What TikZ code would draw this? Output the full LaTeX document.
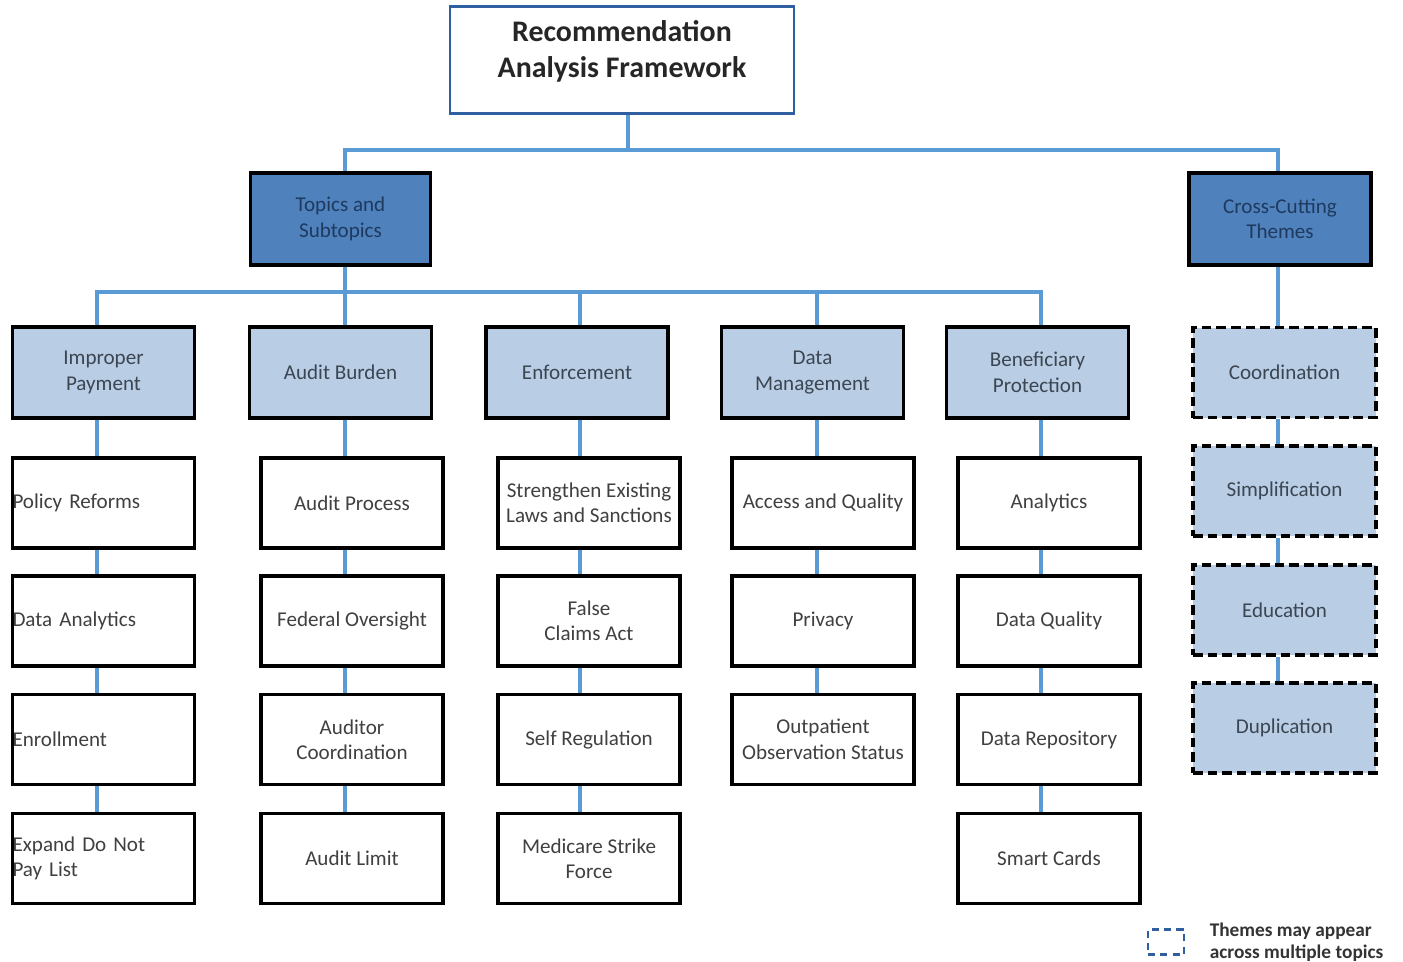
\documentclass[tikz,border=0pt]{standalone}
\usepackage{fontspec}
\setmainfont{Carlito}
\usetikzlibrary{positioning}
\definecolor{rfblue}{HTML}{2F5F9E}
\definecolor{rfmid}{HTML}{4F81BD}
\definecolor{rflight}{HTML}{B9CDE5}
\definecolor{rfline}{HTML}{5B9BD5}
\definecolor{rfnavy}{HTML}{1F3A5F}
\definecolor{rftext}{HTML}{3C4652}

\begin{document}
\begin{tikzpicture}[
  x=0.02cm, y=-0.02cm,
  every node/.style={font=\fontsize{12}{14.5}\selectfont, align=center},
  titlebox/.style={draw=rfblue, line width=1.6pt, fill=white,
                   minimum width=6.88cm, minimum height=2.14cm, text depth=13pt,
                   font=\fontsize{17}{20.5}\selectfont\bfseries, text=black!85},
  topbox/.style={draw=black, line width=2.2pt, fill=rfmid, text=rfnavy,
                 minimum width=3.6cm, minimum height=1.84cm},
  catbox/.style={draw=black, line width=2.2pt, fill=rflight, text=rftext,
                 minimum width=3.64cm, minimum height=1.82cm},
  leafbox/.style={draw=black, line width=2.2pt, fill=white, text=black!75,
                  minimum width=3.64cm, minimum height=1.8cm},
  leftleaf/.style={leafbox, text width=3.64cm, inner xsep=0pt, align=left},
  themebox/.style={draw=black, line width=2.2pt, dash pattern=on 5.5pt off 2.8pt,
                   fill=rflight, text=rftext,
                   minimum width=3.66cm, minimum height=1.8cm},
  link/.style={draw=rfline, line width=1.8pt},
  legbox/.style={draw=rfblue, line width=1.6pt, dash pattern=on 4pt off 3pt,
                 minimum width=0.72cm, minimum height=0.5cm},
  legtxt/.style={font=\fontsize{11}{12.5}\selectfont\bfseries, text=black!80,
                 align=left, inner sep=0pt},
]
\useasboundingbox (0,0) rectangle (1403,961);

%% ---- top levels ----
\node[titlebox] (title) at (622,60) {Recommendation\\Analysis Framework};
\node[topbox] (topics) at (340.5,219) {Topics and\\Subtopics};
\node[topbox, minimum width=3.64cm] (cross) at (1280,219) {Cross-Cutting\\Themes};

%% ---- categories ----
\node[catbox] (cat1) at (103.5,372.5) {Improper\\Payment};
\node[catbox] (cat2) at (340.5,372.5) {Audit Burden};
\node[catbox] (cat3) at (577,372.5) {Enforcement};
\node[catbox] (cat4) at (812.5,372.5) {Data\\Management};
\node[catbox] (cat5) at (1037.5,372.5) {Beneficiary\\Protection};

%% ---- themes ----
\node[themebox] (th1) at (1284.5,372.5) {Coordination};
\node[themebox] (th2) at (1284.5,491) {Simplification};
\node[themebox] (th3) at (1284.5,610) {Education};
\node[themebox] (th4) at (1284.5,728) {Duplication};

%% ---- column 1 ----
\node[leftleaf] (l11) at (103.5,503) {Policy Reforms};
\node[leftleaf] (l12) at (103.5,621) {Data Analytics};
\node[leftleaf] (l13) at (103.5,739.5) {Enrollment};
\node[leftleaf] (l14) at (103.5,858.5) {Expand Do Not\\Pay List};

%% ---- column 2 ----
\node[leafbox] (l21) at (352,503) {Audit Process};
\node[leafbox] (l22) at (352,621) {Federal Oversight};
\node[leafbox] (l23) at (352,739.5) {Auditor\\Coordination};
\node[leafbox] (l24) at (352,858.5) {Audit Limit};

%% ---- column 3 ----
\node[leafbox] (l31) at (589,503) {Strengthen Existing\\Laws and Sanctions};
\node[leafbox] (l32) at (589,621) {False\\Claims Act};
\node[leafbox] (l33) at (589,739.5) {Self Regulation};
\node[leafbox] (l34) at (589,858.5) {Medicare Strike\\Force};

%% ---- column 4 ----
\node[leafbox] (l41) at (823,503) {Access and Quality};
\node[leafbox] (l42) at (823,621) {Privacy};
\node[leafbox] (l43) at (823,739.5) {Outpatient\\Observation Status};

%% ---- column 5 ----
\node[leafbox] (l51) at (1049,503) {Analytics};
\node[leafbox] (l52) at (1049,621) {Data Quality};
\node[leafbox] (l53) at (1049,739.5) {Data Repository};
\node[leafbox] (l54) at (1049,858.5) {Smart Cards};

%% ---- bus lines and column lines ----
\coordinate (bus1) at (628,150);
\coordinate (bus2) at (345,292);
\coordinate (k1) at (97,0);
\coordinate (k2) at (345,0);
\coordinate (k3) at (580,0);
\coordinate (k4) at (817,0);
\coordinate (k5) at (1041,0);
\coordinate (k6) at (1278,0);

\draw[link] (title.south -| bus1) -- (bus1);
\draw[link] (topics.north -| k2) -- (k2 |- bus1) -- (k6 |- bus1) -- (cross.north -| k6);

\draw[link] (topics.south -| k2) -- (bus2);
\draw[link] (cat1.north -| k1) -- (k1 |- bus2) -- (k5 |- bus2) -- (cat5.north -| k5);
\draw[link] (bus2) -- (cat2.north -| k2);
\draw[link] (cat3.north -| k3) -- (k3 |- bus2);
\draw[link] (cat4.north -| k4) -- (k4 |- bus2);

\draw[link] (cat1.south -| k1) -- (l11.north -| k1);
\draw[link] (l11.south -| k1) -- (l12.north -| k1);
\draw[link] (l12.south -| k1) -- (l13.north -| k1);
\draw[link] (l13.south -| k1) -- (l14.north -| k1);

\draw[link] (cat2.south -| k2) -- (l21.north -| k2);
\draw[link] (l21.south -| k2) -- (l22.north -| k2);
\draw[link] (l22.south -| k2) -- (l23.north -| k2);
\draw[link] (l23.south -| k2) -- (l24.north -| k2);

\draw[link] (cat3.south -| k3) -- (l31.north -| k3);
\draw[link] (l31.south -| k3) -- (l32.north -| k3);
\draw[link] (l32.south -| k3) -- (l33.north -| k3);
\draw[link] (l33.south -| k3) -- (l34.north -| k3);

\draw[link] (cat4.south -| k4) -- (l41.north -| k4);
\draw[link] (l41.south -| k4) -- (l42.north -| k4);
\draw[link] (l42.south -| k4) -- (l43.north -| k4);

\draw[link] (cat5.south -| k5) -- (l51.north -| k5);
\draw[link] (l51.south -| k5) -- (l52.north -| k5);
\draw[link] (l52.south -| k5) -- (l53.north -| k5);
\draw[link] (l53.south -| k5) -- (l54.north -| k5);

\draw[link] (cross.south -| k6) -- (th1.north -| k6);
\draw[link] (th1.south -| k6) -- (th2.north -| k6);
\draw[link] (th2.south -| k6) -- (th3.north -| k6);
\draw[link] (th3.south -| k6) -- (th4.north -| k6);

%% ---- legend ----
\node[legbox] (leg) at (1166,942) {};
\node[legtxt, right=0.48cm of leg] (legnote) {Themes may appear\\across multiple topics};

\end{tikzpicture}
\end{document}
